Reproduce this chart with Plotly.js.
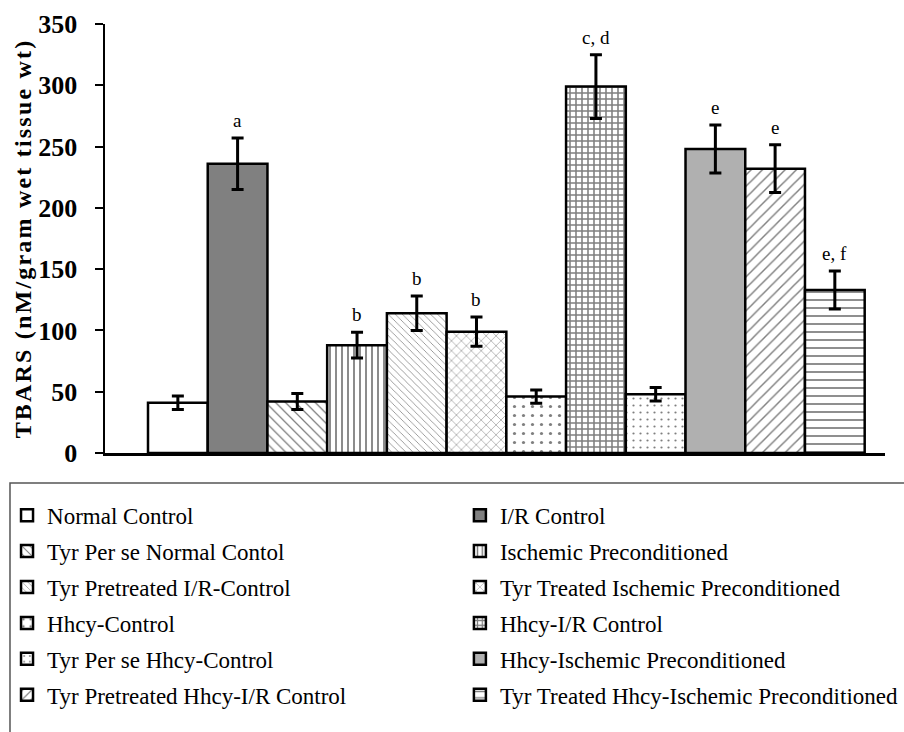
<!DOCTYPE html>
<html>
<head>
<meta charset="utf-8">
<script src="https://cdn.plot.ly/plotly-3.0.1.min.js"></script>
<style>
  body { margin: 0; background: #fff; }
  #chart { width: 904px; height: 732px; }
  .g-ytitle text { letter-spacing: 2.2px; }
</style>
</head>
<body>
<div id="chart"></div>
<script>
// ---- data ----
const groups = [
  "Normal Control",
  "I/R Control",
  "Tyr Per se Normal Contol",
  "Ischemic Preconditioned",
  "Tyr Pretreated I/R-Control",
  "Tyr Treated Ischemic Preconditioned",
  "Hhcy-Control",
  "Hhcy-I/R Control",
  "Tyr Per se Hhcy-Control",
  "Hhcy-Ischemic Preconditioned",
  "Tyr Pretreated Hhcy-I/R Control",
  "Tyr Treated Hhcy-Ischemic Preconditioned"
];
const tbars = [41, 236, 42, 88, 114, 99, 46, 299, 48, 248, 232, 133];
const sem   = [5.5, 21, 6.5, 10.5, 14, 12, 5.5, 26, 5.5, 19.5, 19.5, 15.5];
const sigLabels = ["", "a", "", "b", "b", "b", "", "c, d", "", "e", "e", "e, f"];
const yTicks = [0, 50, 100, 150, 200, 250, 300, 350];

// ---- styles (fill / pattern per group) ----
const fills = [
  {color: "#ffffff"},
  {color: "#808080"},
  {color: "#ffffff", pattern: {shape: "\\", size: 7, solidity: 0.18}},
  {color: "#ffffff", pattern: {shape: "|", size: 6, solidity: 0.3}},
  {color: "#ffffff", pattern: {shape: "\\", size: 5, solidity: 0.15}},
  {color: "#ffffff", pattern: {shape: "x", size: 7, solidity: 0.15}},
  {color: "#ffffff", pattern: {shape: ".", size: 9, solidity: 0.1}},
  {color: "#ffffff", pattern: {shape: "+", size: 6, solidity: 0.45}},
  {color: "#ffffff", pattern: {shape: ".", size: 7, solidity: 0.08}},
  {color: "#b0b0b0"},
  {color: "#ffffff", pattern: {shape: "/", size: 8, solidity: 0.18}},
  {color: "#ffffff", pattern: {shape: "-", size: 8, solidity: 0.22}}
];

const FONT = "Liberation Serif, Times New Roman, serif";

const traces = groups.map((g, i) => {
  const m = {color: fills[i].color, line: {color: "#000", width: 2.5}};
  if (fills[i].pattern) {
    m.pattern = Object.assign({fgcolor: "#000", bgcolor: "#fff", fillmode: "overlay"}, fills[i].pattern);
  }
  return {
    type: "bar",
    name: g,
    x: [g],
    y: [tbars[i]],
    marker: m,
    legend: i % 2 === 0 ? "legend" : "legend2",
    legendgroup: "g" + i,
    error_y: {type: "data", array: [sem[i]], visible: true, color: "#000", thickness: 3, width: 6},
    hoverinfo: "x+y"
  };
});

const annotations = groups.map((g, i) => ({
  x: g,
  y: tbars[i] + sem[i],
  xref: "x", yref: "y",
  text: sigLabels[i],
  showarrow: false,
  yanchor: "bottom",
  yshift: 5,
  font: {family: FONT, size: 19, color: "#000"}
})).filter(a => a.text !== "");

const legendBase = {
  orientation: "v",
  yanchor: "top",
  xanchor: "left",
  traceorder: "grouped",
  tracegroupgap: 3,
  borderwidth: 0,
  bgcolor: "rgba(0,0,0,0)",
  font: {family: FONT, size: 23, color: "#000"}
};

const layout = {
  width: 904,
  height: 732,
  margin: {l: 105, r: 19, t: 24, b: 279, autoexpand: false},
  paper_bgcolor: "#fff",
  plot_bgcolor: "#fff",
  barmode: "overlay",
  bargap: 0,
  showlegend: true,
  font: {family: FONT, color: "#000"},
  xaxis: {
    type: "category",
    categoryorder: "array",
    categoryarray: groups,
    range: [-1.22, 11.84],
    showticklabels: false,
    ticks: "",
    showgrid: false,
    zeroline: false,
    showline: true,
    linecolor: "#000",
    linewidth: 2.5
  },
  yaxis: {
    range: [0, 350],
    tickvals: yTicks,
    ticktext: yTicks.map(String),
    ticks: "outside",
    ticklen: 8,
    tickwidth: 2,
    tickcolor: "#000",
    ticklabelstandoff: 12,
    showgrid: false,
    zeroline: false,
    showline: true,
    linecolor: "#000",
    linewidth: 2.5,
    tickfont: {family: FONT, size: 26, weight: "bold", color: "#000"},
    title: {
      text: "TBARS (nM/gram wet tissue wt)",
      font: {family: FONT, size: 24, weight: "bold", color: "#000"},
      standoff: 0
    },
    automargin: false
  },
  legend: Object.assign({}, legendBase, {x: -0.1256, y: -0.095}),
  legend2: Object.assign({}, legendBase, {x: 0.455, y: -0.095}),
  shapes: [{
    type: "rect",
    xref: "paper", yref: "paper",
    x0: -0.1218, x1: 1.2,
    y0: -0.0699, y1: -0.7,
    line: {color: "#555", width: 1.5},
    fillcolor: "rgba(0,0,0,0)",
    layer: "below"
  }],
  annotations: annotations
};

Plotly.newPlot("chart", traces, layout, {displayModeBar: false, staticPlot: true});
</script>
</body>
</html>
